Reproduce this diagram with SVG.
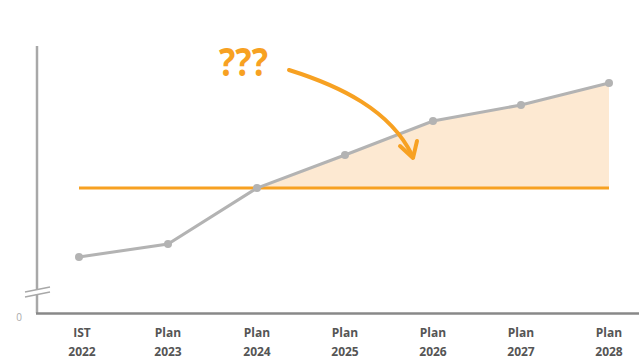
<svg xmlns="http://www.w3.org/2000/svg" width="639" height="360" viewBox="0 0 639 360">
<style>
.lbl{font-family:"Open Sans","Liberation Sans",sans-serif;font-weight:bold;font-size:12px;fill:#555;text-anchor:middle}
.axis{stroke:#a8a8a8;stroke-width:2.5;fill:none}
.pt{fill:#b3b3b3}
</style>
<rect width="639" height="360" fill="#fff"/>
<g id="area">
<polygon points="257,188 345,155 433,121 521,105 609,83 609,188" fill="#fde9d2"/>
</g>
<g id="axes">
<line class="axis" x1="37" y1="46" x2="37" y2="289"/>
<line class="axis" x1="37" y1="294" x2="37" y2="313"/>
<line x1="36" y1="313.5" x2="639" y2="313.5" stroke="#888" stroke-width="2.5"/>
<line x1="25" y1="292" x2="50" y2="287" stroke="#a8a8a8" stroke-width="1.5"/>
<line x1="25" y1="297" x2="50" y2="292" stroke="#a8a8a8" stroke-width="1.5"/>
<text x="19" y="321" font-family="'Open Sans','Liberation Sans',sans-serif" font-size="10" fill="#aaa" text-anchor="middle">0</text>
</g>
<g id="target">
<line x1="79" y1="188" x2="609" y2="188" stroke="#f7a122" stroke-width="3"/>
</g>
<g id="series">
<polyline points="79,257 168,244 257,188 345,155 433,121 521,105 609,83" fill="none" stroke="#b3b3b3" stroke-width="3"/>
<circle class="pt" cx="79" cy="257" r="4"/>
<circle class="pt" cx="168" cy="244" r="4"/>
<circle class="pt" cx="257" cy="188" r="4"/>
<circle class="pt" cx="345" cy="155" r="4"/>
<circle class="pt" cx="433" cy="121" r="4"/>
<circle class="pt" cx="521" cy="105" r="4"/>
<circle class="pt" cx="609" cy="83" r="4"/>
</g>
<g id="labels">
<text class="lbl" x="82" y="337">IST</text><text class="lbl" x="82" y="356">2022</text>
<text class="lbl" x="168" y="337">Plan</text><text class="lbl" x="168" y="356">2023</text>
<text class="lbl" x="257" y="337">Plan</text><text class="lbl" x="257" y="356">2024</text>
<text class="lbl" x="345" y="337">Plan</text><text class="lbl" x="345" y="356">2025</text>
<text class="lbl" x="433" y="337">Plan</text><text class="lbl" x="433" y="356">2026</text>
<text class="lbl" x="521" y="337">Plan</text><text class="lbl" x="521" y="356">2027</text>
<text class="lbl" x="609" y="337">Plan</text><text class="lbl" x="609" y="356">2028</text>
</g>
<g id="question">
<text x="219" y="76" font-family="'Open Sans','Liberation Sans',sans-serif" font-weight="bold" font-size="39" fill="#f7a122" textLength="49" lengthAdjust="spacingAndGlyphs">???</text>
</g>
<g id="connectors">
<path d="M289,70 C340,86 390,110 412,155" fill="none" stroke="#f7a122" stroke-width="4" stroke-linecap="round"/>
<path d="M400,146 L413,158 L417,141" fill="none" stroke="#f7a122" stroke-width="4" stroke-linecap="round" stroke-linejoin="round"/>
</g>
</svg>
